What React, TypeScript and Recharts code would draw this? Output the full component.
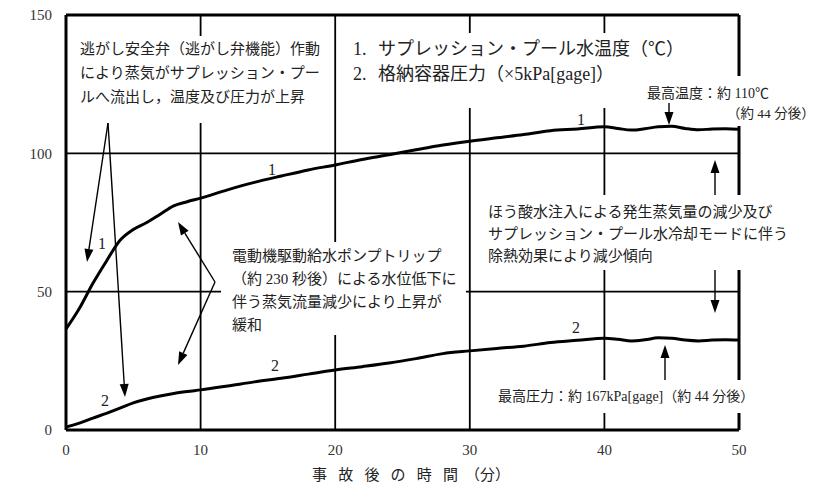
import { LineChart, Line, XAxis, YAxis, ReferenceLine, Customized } from 'recharts'

// time after the event (min)
const times = [0, 1, 2, 3, 4, 5, 6, 7, 8, 9, 10, 12, 14, 16, 18, 20, 22, 24, 26, 28, 30, 32, 34, 36, 38, 40, 41, 42, 43, 44, 45, 46, 47, 48, 49, 50]
// 1. suppression pool water temperature (°C)
const poolTemp = [36.5, 44, 53, 61, 68.5, 72.5, 75, 78, 81, 82.5, 83.8, 86.8, 89.5, 91.8, 94, 95.8, 97.8, 99.5, 101.3, 103, 104.4, 105.6, 106.8, 108.2, 108.8, 109.6, 109, 108.4, 108.9, 109.6, 109.8, 109, 108.5, 108.8, 108.9, 108.7]
// 2. containment pressure (x5kPa[gage])
const vesselPress = [1.1, 2.5, 4.3, 6, 7.9, 9.8, 11.2, 12.3, 13.2, 13.9, 14.5, 15.9, 17.4, 18.7, 20.2, 21.7, 22.9, 24.2, 25.8, 27.6, 28.6, 29.5, 30.3, 31.6, 32.4, 33.2, 32.8, 32.2, 32.6, 33.3, 33.2, 32.5, 32.2, 32.5, 32.6, 32.5]

const xTicks = [0, 10, 20, 30, 40, 50]
const yTicks = [0, 50, 100, 150]

const data = times.map((t, i) => ({ t, temp: poolTemp[i], press: vesselPress[i] }))

// plot box in px (chart margins below are derived from it)
const PL = 66, PT = 15, PW = 673, PH = 415
const toT = (px: number) => (px - PL) / PW * 50
const toV = (py: number) => (PT + PH - py) / PH * 150

// grid lines are broken where the notes sit (gaps in px)
const vGrid = [
  { t: 10, w: 1.8, gaps: [[36, 123]] },
  { t: 20, w: 1.8, gaps: [[242, 335]] },
  { t: 30, w: 1.8, gaps: [[33, 108]] },
  { t: 40, w: 1.8, gaps: [[33, 108], [195, 270], [380, 413]] },
  { t: 50, w: 3, gaps: [[76, 126], [195, 270], [380, 413]] },
]
const hGrid = [
  { v: 50, w: 1.8, gaps: [[221, 466]] },
  { v: 100, w: 1.8, gaps: [] as number[][] },
  { v: 150, w: 3, gaps: [] as number[][] },
]

const pieces = (from: number, to: number, gaps: number[][]) => {
  const out: [number, number][] = []
  let a = from
  gaps.forEach(([g0, g1]) => { out.push([a, g0]); a = g1 })
  out.push([a, to])
  return out
}

const FONT = '"Liberation Serif", "Noto Sans CJK JP", serif'
const TXT = '#222'

const Arrow = ({ x1, y1, x2, y2 }: { x1: number; y1: number; x2: number; y2: number }) => {
  const a = Math.atan2(y2 - y1, x2 - x1)
  const len = 13, hw = 4.5
  const bx = x2 - len * Math.cos(a), by = y2 - len * Math.sin(a)
  const px = -Math.sin(a) * hw, py = Math.cos(a) * hw
  return (
    <g>
      <line x1={x1} y1={y1} x2={bx} y2={by} stroke="#000" strokeWidth={1.4} />
      <polygon points={`${x2},${y2} ${bx + px},${by + py} ${bx - px},${by - py}`} fill="#000" />
    </g>
  )
}

const T = ({ x, y, s = 15, ls, children }: { x: number; y: number; s?: number; ls?: number; children: any }) => (
  <text x={x} y={y} fontSize={s} fontFamily={FONT} fill={TXT} dominantBaseline="central" letterSpacing={ls}>{children}</text>
)

const Notes = () => (
  <g>
    <T x={80} y={49}>逃がし安全弁（逃がし弁機能）作動</T>
    <T x={80} y={73}>により蒸気がサプレッション・プー</T>
    <T x={80} y={97}>ルへ流出し，温度及び圧力が上昇</T>

    <T x={353} y={49} s={18}>1.</T>
    <T x={378} y={49} s={18}>サプレッション・プール水温度（℃）</T>
    <T x={353} y={74} s={18}>2.</T>
    <T x={378} y={74} s={18}>格納容器圧力（×5kPa[gage]）</T>

    <T x={647} y={93} s={14}>最高温度：約 110℃</T>
    <T x={727} y={113} s={13.5}>（約 44 分後）</T>

    <T x={232} y={256}>電動機駆動給水ポンプトリップ</T>
    <T x={232} y={279}>（約 230 秒後）による水位低下に</T>
    <T x={232} y={302}>伴う蒸気流量減少により上昇が</T>
    <T x={232} y={325}>緩和</T>

    <T x={488} y={212}>ほう酸水注入による発生蒸気量の減少及び</T>
    <T x={488} y={234}>サプレッション・プール水冷却モードに伴う</T>
    <T x={488} y={256}>除熱効果により減少傾向</T>

    <T x={498} y={396} s={14}>最高圧力：約 167kPa[gage]（約 44 分後）</T>

    <T x={98} y={243} s={16}>1</T>
    <T x={268} y={169} s={16}>1</T>
    <T x={577} y={119} s={16}>1</T>
    <T x={101} y={400} s={16}>2</T>
    <T x={271} y={365} s={16}>2</T>
    <T x={572} y={327} s={16}>2</T>

    <Arrow x1={108} y1={123} x2={87} y2={262} />
    <Arrow x1={108} y1={123} x2={125} y2={397} />
    <Arrow x1={215} y1={282} x2={178} y2={222} />
    <Arrow x1={215} y1={282} x2={178} y2={365} />
    <Arrow x1={669} y1={103} x2={669} y2={125} />
    <Arrow x1={715} y1={195} x2={715} y2={160} />
    <Arrow x1={715} y1={270} x2={715} y2={313} />
    <Arrow x1={665} y1={380} x2={665} y2={345} />

    <T x={312} y={475} ls={11.2}>事故後の時間</T>
    <T x={465} y={475}>（分）</T>
  </g>
)

export default function App() {
  const tick = { fontSize: 15, fontFamily: FONT, fill: '#333' }
  return (
    <div style={{ position: 'absolute', left: 0, top: 0, background: '#fff' }}>
      <LineChart width={814} height={493} data={data}
        margin={{ top: PT, right: 814 - PL - PW, left: PL - 50, bottom: 493 - PT - PH - 30 }}>
        <XAxis dataKey="t" type="number" domain={[0, 50]} ticks={xTicks} height={30}
          axisLine={{ stroke: '#000', strokeWidth: 3 }} tickLine={false} tickSize={6} tickMargin={8} tick={tick} />
        <YAxis type="number" domain={[0, 150]} ticks={yTicks} width={50}
          axisLine={{ stroke: '#000', strokeWidth: 3 }} tickLine={false} tickSize={6} tickMargin={8} tick={tick} />
        {vGrid.flatMap(g => pieces(PT, PT + PH, g.gaps).map(([a, b], k) => (
          <ReferenceLine key={`v${g.t}-${k}`} segment={[{ x: g.t, y: toV(a) }, { x: g.t, y: toV(b) }]}
            stroke="#000" strokeWidth={g.w} />
        )))}
        {hGrid.flatMap(g => pieces(PL, PL + PW, g.gaps).map(([a, b], k) => (
          <ReferenceLine key={`h${g.v}-${k}`} segment={[{ x: toT(a), y: g.v }, { x: toT(b), y: g.v }]}
            stroke="#000" strokeWidth={g.w} />
        )))}
        <Line type="monotone" dataKey="temp" stroke="#000" strokeWidth={3} dot={false} isAnimationActive={false} />
        <Line type="monotone" dataKey="press" stroke="#000" strokeWidth={3} dot={false} isAnimationActive={false} />
        <Customized component={Notes} />
      </LineChart>
    </div>
  )
}
